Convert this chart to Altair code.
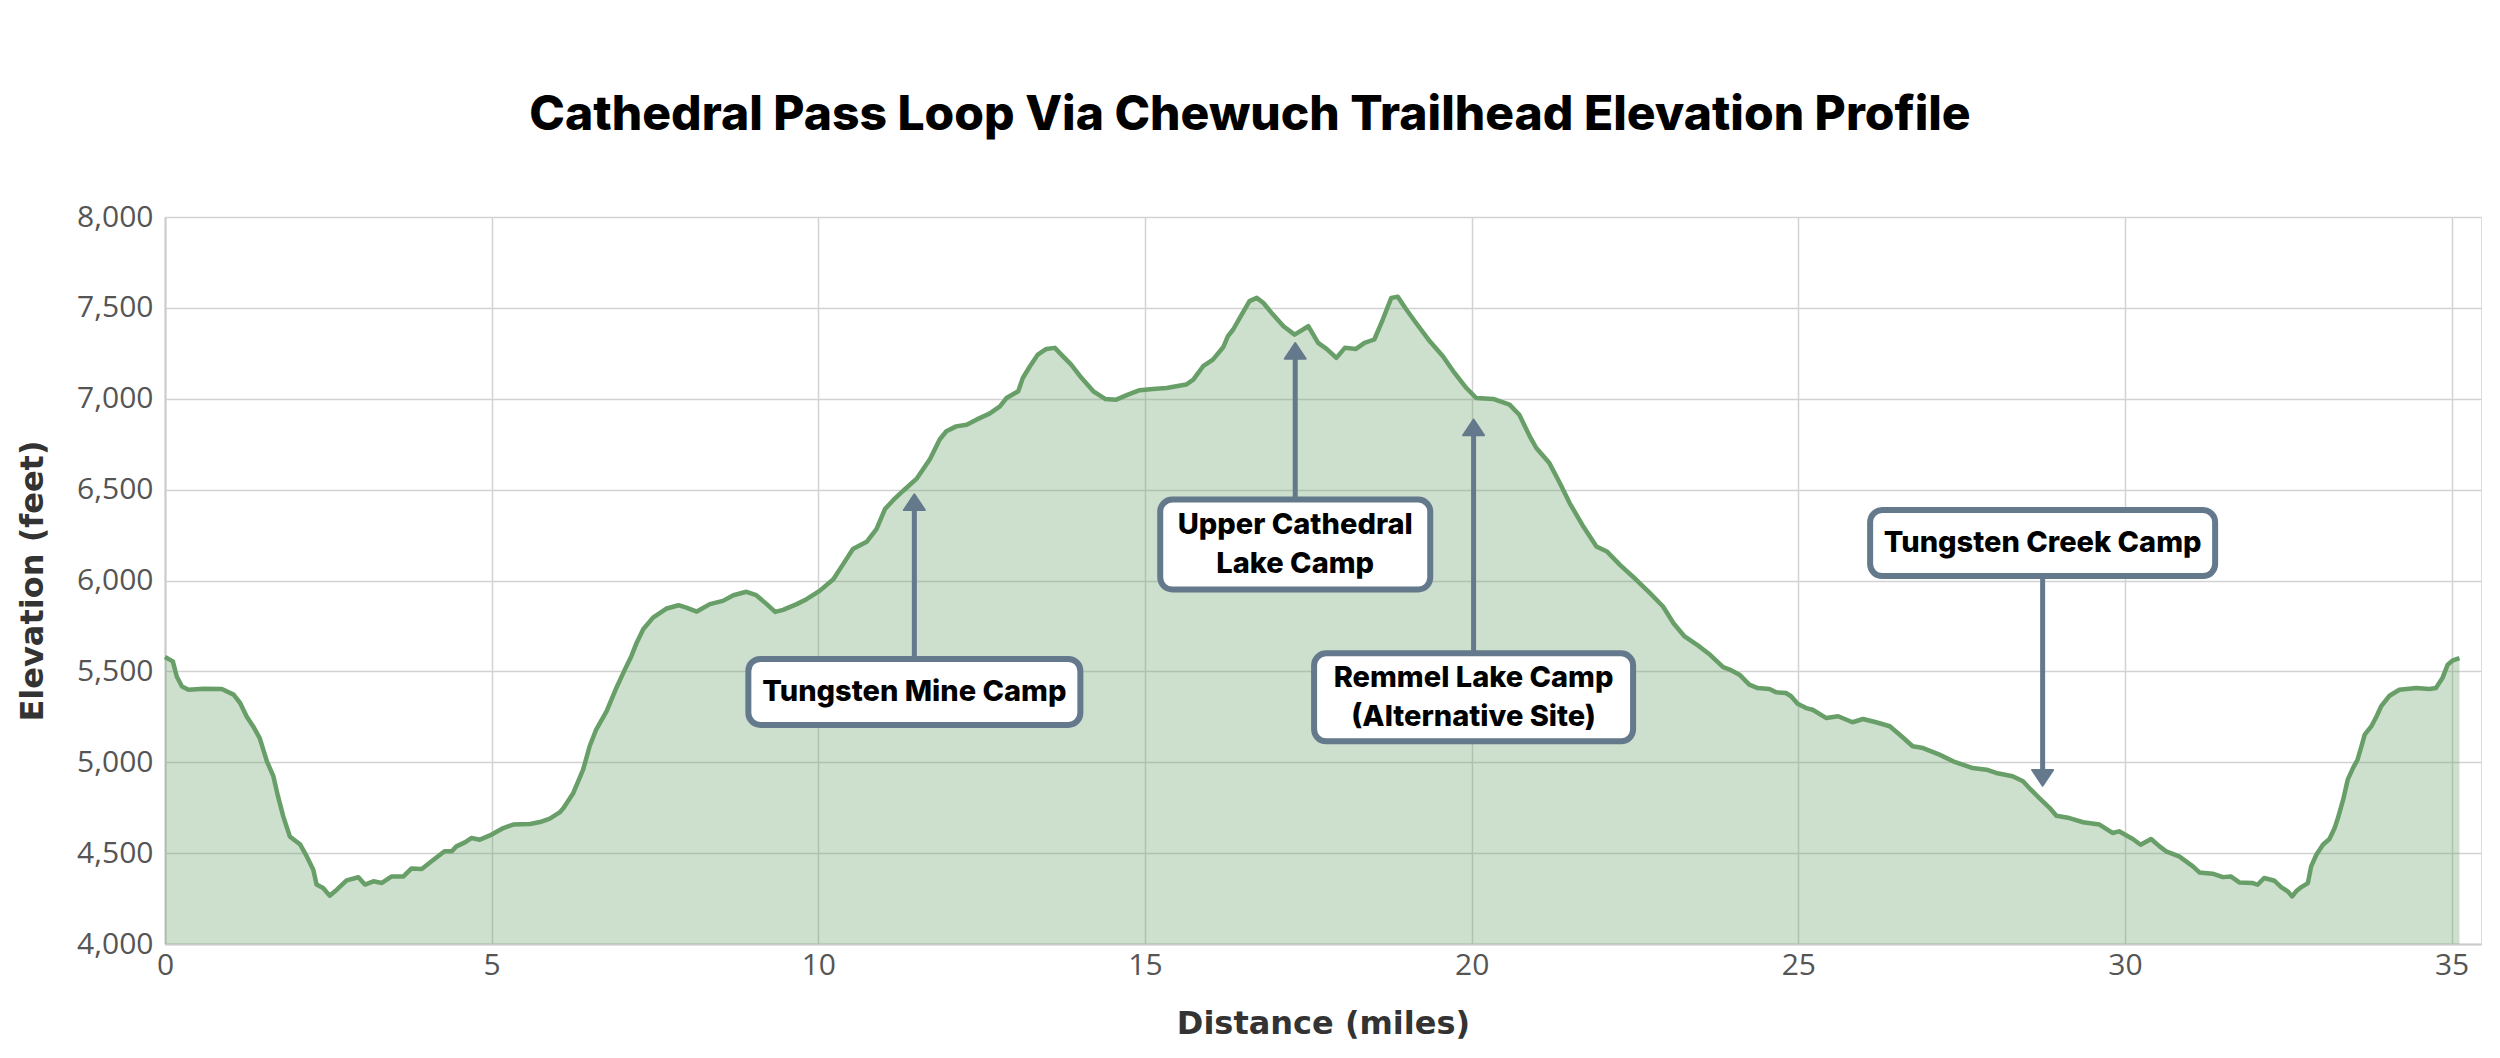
import altair as alt
import pandas as pd

# ---------------- data ----------------
DIST_MI = [0.00, 0.12, 0.18, 0.26, 0.36, 0.59, 0.87, 1.05, 1.15, 1.25, 1.35, 1.45, 1.56, 1.66, 1.73,
           1.81, 1.91, 2.07, 2.17, 2.27, 2.32, 2.42, 2.52, 2.63, 2.78, 2.96, 3.06, 3.19, 3.32, 3.47,
           3.65, 3.77, 3.93, 4.08, 4.28, 4.39, 4.46, 4.59, 4.69, 4.82, 5.00, 5.18, 5.33, 5.59, 5.74,
           5.89, 6.04, 6.10, 6.25, 6.40, 6.50, 6.60, 6.76, 6.91, 7.04, 7.14, 7.22, 7.32, 7.47, 7.68,
           7.86, 7.98, 8.14, 8.34, 8.54, 8.70, 8.90, 9.05, 9.21, 9.34, 9.46, 9.67, 9.82, 10.02, 10.23,
           10.38, 10.53, 10.74, 10.89, 11.02, 11.15, 11.30, 11.51, 11.71, 11.86, 11.96, 12.11, 12.27,
           12.42, 12.62, 12.78, 12.88, 13.06, 13.13, 13.24, 13.36, 13.49, 13.62, 13.72, 13.87, 14.03,
           14.21, 14.39, 14.56, 14.74, 14.92, 15.12, 15.33, 15.63, 15.74, 15.89, 16.04, 16.20, 16.27,
           16.35, 16.48, 16.60, 16.71, 16.81, 16.96, 17.12, 17.29, 17.50, 17.65, 17.78, 17.93, 18.06,
           18.23, 18.36, 18.51, 18.64, 18.77, 18.87, 19.00, 19.15, 19.36, 19.56, 19.72, 19.92, 20.07,
           20.33, 20.58, 20.73, 20.89, 20.99, 21.19, 21.35, 21.50, 21.71, 21.91, 22.07, 22.27, 22.52,
           22.73, 22.93, 23.09, 23.26, 23.49, 23.65, 23.85, 23.95, 24.10, 24.25, 24.38, 24.56, 24.66,
           24.81, 24.89, 24.99, 25.12, 25.22, 25.43, 25.61, 25.83, 25.99, 26.19, 26.40, 26.58, 26.75,
           26.91, 27.16, 27.37, 27.67, 27.88, 28.03, 28.28, 28.44, 28.56, 28.69, 28.85, 28.95, 29.15,
           29.36, 29.61, 29.81, 29.91, 30.12, 30.24, 30.40, 30.53, 30.63, 30.83, 31.04, 31.14, 31.34,
           31.50, 31.62, 31.75, 31.96, 32.03, 32.13, 32.29, 32.39, 32.49, 32.56, 32.62, 32.70, 32.80,
           32.85, 32.93, 33.03, 33.13, 33.21, 33.26, 33.34, 33.41, 33.49, 33.56, 33.62, 33.67, 33.77,
           33.85, 33.92, 34.05, 34.20, 34.46, 34.66, 34.76, 34.86, 34.94, 35.02, 35.12]

ELEV_FT = [5579, 5555, 5472, 5417, 5399, 5405, 5403, 5372, 5326, 5252, 5197, 5133, 5005, 4922, 4812,
           4702, 4592, 4547, 4482, 4409, 4327, 4308, 4266, 4299, 4350, 4367, 4327, 4345, 4336, 4372,
           4372, 4415, 4413, 4455, 4510, 4510, 4537, 4559, 4583, 4574, 4602, 4638, 4657, 4660, 4671,
           4690, 4724, 4748, 4831, 4960, 5088, 5180, 5281, 5410, 5511, 5585, 5658, 5732, 5796, 5846,
           5864, 5851, 5829, 5870, 5888, 5919, 5938, 5919, 5870, 5827, 5838, 5870, 5897, 5943, 6007,
           6090, 6173, 6213, 6283, 6393, 6443, 6494, 6562, 6669, 6777, 6821, 6848, 6857,
           6885, 6918, 6958, 7004, 7041, 7114, 7179, 7243, 7274, 7280, 7243, 7188, 7114,
           7041, 6999, 6995, 7023, 7047, 7054, 7059, 7078, 7105, 7179, 7215, 7285, 7344,
           7381, 7463, 7537, 7555, 7528, 7463, 7399, 7353, 7399, 7307, 7274, 7225, 7280,
           7274, 7307, 7326, 7436, 7555, 7561, 7491, 7417, 7316, 7234, 7151, 7059, 7004,
           6999, 6968, 6912, 6793, 6729, 6646, 6536, 6426, 6297, 6187, 6160, 6086, 6004,
           5930, 5857, 5765, 5692, 5636, 5591, 5523, 5510, 5482, 5427, 5408, 5403, 5385,
           5381, 5363, 5322, 5298, 5289, 5243, 5253, 5220, 5238, 5220, 5198, 5143, 5088,
           5078, 5042, 5005, 4968, 4959, 4941, 4923, 4895, 4849, 4803, 4748, 4706, 4693,
           4670, 4657, 4611, 4620, 4578, 4546, 4578, 4537, 4510, 4482, 4427, 4394, 4387,
           4368, 4372, 4339, 4335, 4326, 4363, 4348, 4313, 4290, 4262, 4290, 4313, 4335,
           4427, 4491, 4546, 4578, 4638, 4693, 4794, 4904, 4968, 5014, 5087, 5152, 5197,
           5252, 5307, 5366, 5399, 5408, 5403, 5408, 5463, 5537, 5561, 5573]

CAMP_LABELS = ["Tungsten Mine Camp", "Upper Cathedral\nLake Camp",
               "Remmel Lake Camp\n(Alternative Site)", "Tungsten Creek Camp"]
CAMP_MILE = [11.47, 17.30, 20.03, 28.74]
CAMP_TIP_FT = [6474, 7307, 6886, 4871]      # where each arrow points
CAMP_LABEL_FT = [5387, 6198, 5357, 6206]    # centre of each label box

X_TICKS = [0, 5, 10, 15, 20, 25, 30, 35]
Y_TICKS = [4000, 4500, 5000, 5500, 6000, 6500, 7000, 7500, 8000]

# ---------------- styles ----------------
PLOT_W, PLOT_H = 2316, 727
X_DOMAIN = [0, 35.45]
Y_DOMAIN = [4000, 8000]
LINE_COLOR = "#689e67"
ANN_COLOR = "#647a8c"
BOX_W = [332, 270, 319, 345]   # pixel sizes of label boxes
BOX_H = [66, 90, 88, 66]
HEAD_PX = 16
LINE_H = 39

ft_per_px = (Y_DOMAIN[1] - Y_DOMAIN[0]) / PLOT_H

profile = pd.DataFrame({"Distance": DIST_MI, "Elevation": ELEV_FT})

dirs = [1 if t > b else -1 for t, b in zip(CAMP_TIP_FT, CAMP_LABEL_FT)]
camps = pd.DataFrame({
    "label": CAMP_LABELS,
    "mile": CAMP_MILE,
    "tip": CAMP_TIP_FT,
    "box": CAMP_LABEL_FT,
    "shaft_end": [t - d * HEAD_PX * 0.6 * ft_per_px for t, d in zip(CAMP_TIP_FT, dirs)],
    "dir": ["up" if d > 0 else "down" for d in dirs],
    "lines": [lbl.count("\n") + 1 for lbl in CAMP_LABELS],
})

x_scale = alt.Scale(domain=X_DOMAIN, nice=False, zero=False)
y_scale = alt.Scale(domain=Y_DOMAIN, nice=False, zero=False)

x_axis = alt.Axis(
    values=X_TICKS, format="d", title="Distance (miles)", grid=True, ticks=False,
    labelFont="Open Sans", labelFontSize=30, labelColor="#555555", labelPadding=6,
    labelFlush=False,
    titleFont="DejaVu Sans", titleFontSize=32, titleFontWeight="bold", titleColor="#333333",
    titleX=PLOT_W / 2, titleY=79, titleAlign="center", titleBaseline="middle",
    domainColor="#cccccc", domainWidth=2, gridColor="#d2d2d2", gridWidth=1.5,
)
y_axis = alt.Axis(
    values=Y_TICKS, format=",d", title="Elevation (feet)", grid=True, ticks=False,
    labelFont="Open Sans", labelFontSize=30, labelColor="#555555", labelPadding=12,
    labelFlush=False,
    titleFont="DejaVu Sans", titleFontSize=32, titleFontWeight="bold", titleColor="#333333",
    titleAngle=270, titleX=-133, titleY=PLOT_H / 2, titleAlign="center", titleBaseline="middle",
    domainColor="#cccccc", domainWidth=2, gridColor="#d2d2d2", gridWidth=1.5,
)

base = alt.Chart(profile)
area = base.mark_area(color=LINE_COLOR, fillOpacity=0.33, interpolate="linear").encode(
    x=alt.X("Distance:Q", scale=x_scale, axis=x_axis),
    y=alt.Y("Elevation:Q", scale=y_scale, axis=y_axis),
    y2=alt.datum(Y_DOMAIN[0]),
)
line = base.mark_line(color=LINE_COLOR, strokeWidth=4.5, strokeJoin="round").encode(
    x=alt.X("Distance:Q", scale=x_scale),
    y=alt.Y("Elevation:Q", scale=y_scale),
)

cbase = alt.Chart(camps)
shafts = cbase.mark_rule(color=ANN_COLOR, strokeWidth=5).encode(
    x=alt.X("mile:Q", scale=x_scale),
    y=alt.Y("shaft_end:Q", scale=y_scale),
    y2="box:Q",
)
head_up = cbase.transform_filter(alt.datum.dir == "up").mark_point(
    shape="M0,0L-1,1.5L1,1.5Z", size=441, filled=True, opacity=1,
    color=ANN_COLOR, stroke=ANN_COLOR, strokeWidth=2, strokeJoin="round",
).encode(x=alt.X("mile:Q", scale=x_scale), y=alt.Y("tip:Q", scale=y_scale))
head_down = cbase.transform_filter(alt.datum.dir == "down").mark_point(
    shape="M0,0L-1,-1.5L1,-1.5Z", size=441, filled=True, opacity=1,
    color=ANN_COLOR, stroke=ANN_COLOR, strokeWidth=2, strokeJoin="round",
).encode(x=alt.X("mile:Q", scale=x_scale), y=alt.Y("tip:Q", scale=y_scale))

boxes = []
for i in range(len(CAMP_LABELS)):
    boxes.append(
        alt.Chart(camps.iloc[[i]]).mark_rect(
            width=BOX_W[i], height=BOX_H[i], fill="white", stroke=ANN_COLOR,
            strokeWidth=6, cornerRadius=12,
        ).encode(x=alt.X("mile:Q", scale=x_scale), y=alt.Y("box:Q", scale=y_scale))
    )

text_props = dict(font="Inter", fontSize=29, fontWeight=800, color="#000000", lineBreak="\n",
                  lineHeight=LINE_H, align="center", baseline="middle")
text_enc = dict(x=alt.X("mile:Q", scale=x_scale), y=alt.Y("box:Q", scale=y_scale), text="label:N")
texts_one = cbase.transform_filter(alt.datum.lines == 1).mark_text(**text_props).encode(**text_enc)
texts_two = cbase.transform_filter(alt.datum.lines == 2).mark_text(
    dy=-LINE_H / 2, **text_props).encode(**text_enc)

chart = alt.layer(area, line, shafts, head_up, head_down, *boxes, texts_one, texts_two).properties(
    width=PLOT_W,
    height=PLOT_H,
    autosize=alt.AutoSizeParams(type="none"),
    padding={"left": 165, "top": 217, "right": 19, "bottom": 114},
    title=alt.TitleParams(
        text="Cathedral Pass Loop Via Chewuch Trailhead Elevation Profile",
        font="Inter", fontSize=48, fontWeight=800, color="#000000",
        anchor="middle", frame="group", dx=-73, offset=24, baseline="alphabetic",
    ),
).configure_view(stroke=None).configure(background="white")

chart.save("out.html", embed_options={"renderer": "svg", "actions": False})
